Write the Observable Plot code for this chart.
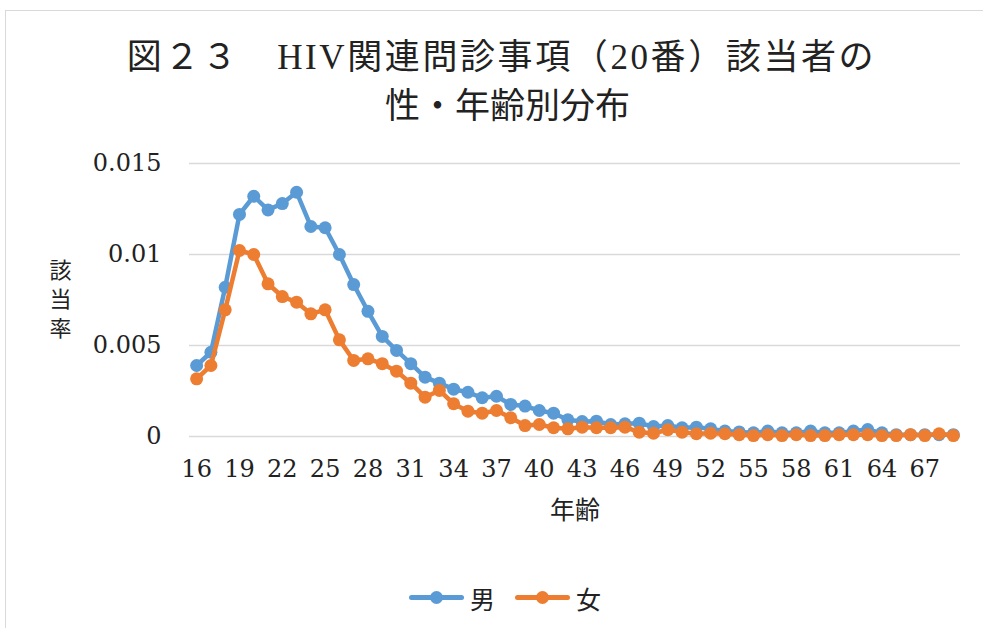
<!DOCTYPE html>
<html>
<head>
<meta charset="utf-8">
<script src="https://cdn.jsdelivr.net/npm/d3@7"></script>
<script src="https://cdn.jsdelivr.net/npm/@observablehq/plot@0.6"></script>
<style>
  html, body { margin: 0; padding: 0; background: #fff; }
  #wrap { position: relative; width: 983px; height: 628px; overflow: hidden; background: #fff; }
  #border { position: absolute; left: 5px; top: 10px; width: 1200px; height: 900px; border: 1.5px solid #D9D9D9; box-sizing: border-box; }
  .title { position: absolute; left: 0; width: 983px; text-align: center; color: #222;
           font-family: "Liberation Serif", "Noto Sans CJK JP", serif; font-size: 35px; line-height: 40px; white-space: nowrap; }
  #t1 { top: 38px; letter-spacing: 2.6px; left: 10px; }
  #t2 { top: 87px; left: 16px; }
  #chart { position: absolute; left: 0; top: 130px; }
  #legend { position: absolute; top: 580px; left: 0; width: 983px; height: 36px; }
  .leg { position: absolute; top: 0; height: 36px; display: flex; align-items: center;
         font-family: "Noto Sans CJK JP", sans-serif; font-size: 25px; color: #222; }
  .sym { position: relative; width: 55px; height: 36px; margin-right: 6px; }
  .sym .ln { position: absolute; left: 0; right: 0; top: 15px; height: 5px; border-radius: 3px; }
  .sym .dt { position: absolute; left: 21px; top: 11px; width: 13px; height: 13px; border-radius: 50%; }
</style>
</head>
<body>
<div id="wrap">
  <div id="border"></div>
  <div class="title" id="t1">図２３　HIV関連問診事項（20番）該当者の</div>
  <div class="title" id="t2">性・年齢別分布</div>
  <div id="chart"></div>
  <div id="legend"></div>
</div>
<script>
const ages = [16,17,18,19,20,21,22,23,24,25,26,27,28,29,30,31,32,33,34,35,36,37,38,39,40,41,42,43,44,45,46,47,48,49,50,51,52,53,54,55,56,57,58,59,60,61,62,63,64,65,66,67,68,69];
const tickAges = [16,19,22,25,28,31,34,37,40,43,46,49,52,55,58,61,64,67];
const male = [0.0039,0.00463,0.0082,0.0122,0.0132,0.01245,0.0128,0.01342,0.01154,0.01147,
              0.0100,0.00835,0.00688,0.0055,0.00473,0.0040,0.00326,0.00293,0.0026,0.00243,
              0.00213,0.00221,0.00176,0.00167,0.00143,0.00128,0.00092,0.00082,0.00084,0.00066,
              0.0007,0.00073,0.00055,0.0006,0.00048,0.00051,0.00042,0.0003,0.00025,0.0002,
              0.0003,0.0002,0.0002,0.0003,0.0002,0.0002,0.0003,0.00038,0.0002,0.0001,
              0.0001,0.0001,0.0001,0.0001];
const female = [0.00317,0.0039,0.00696,0.01022,0.0100,0.00839,0.00769,0.00738,0.00674,0.00696,
                0.00531,0.00418,0.00427,0.0040,0.00359,0.00293,0.00216,0.00253,0.0018,0.00139,
                0.00128,0.00143,0.00103,0.0006,0.00066,0.00048,0.00042,0.00051,0.00048,0.00048,
                0.00051,0.00024,0.00018,0.00037,0.00024,0.00015,0.00018,0.00015,0.0001,0.00005,
                0.0001,0.00005,0.0001,0.00005,0.00005,0.0001,0.0001,0.0001,0.00005,0.00005,
                0.0001,0.00005,0.00015,0.00005];
const seriesNames = ["男", "女"];
const seriesColors = ["#5B9BD5", "#ED7D31"];
const yTicks = [0, 0.005, 0.01, 0.015];
const xLabel = "年齢";
const yLabelChars = ["該", "当", "率"];

const maleData = ages.map((a, i) => ({age: a, v: male[i]}));
const femaleData = ages.map((a, i) => ({age: a, v: female[i]}));

const chart = Plot.plot({
  width: 983,
  height: 410,
  marginLeft: 189,
  marginRight: 23,
  marginTop: 33,
  marginBottom: 104,
  style: {background: "transparent", overflow: "visible"},
  x: {type: "point", domain: ages, padding: 0.5, round: false},
  y: {domain: [0, 0.015]},
  marks: [
    Plot.gridY(yTicks, {stroke: "#D9D9D9", strokeOpacity: 1, strokeWidth: 1.5}),
    Plot.axisY(yTicks, {tickSize: 0, tickPadding: 28, fontSize: 24, fontFamily: "DejaVu Serif", fill: "#222",
      tickFormat: d => d === 0 ? "0" : String(d), label: null}),
    Plot.axisX(tickAges, {tickSize: 0, tickPadding: 23, fontSize: 24, fontFamily: "DejaVu Serif", fill: "#222", label: null}),
    Plot.text([xLabel], {frameAnchor: "bottom", dy: 82, fontSize: 25, fontFamily: "Noto Sans CJK JP", fill: "#222"}),
    ...yLabelChars.map((c, i) => Plot.text([c], {frameAnchor: "left", textAnchor: "middle", dx: -129, dy: (i - 1) * 29,
      fontSize: 22, fontFamily: "Noto Sans CJK JP", fill: "#222"})),
    Plot.line(maleData, {x: "age", y: "v", stroke: seriesColors[0], strokeWidth: 4.5}),
    Plot.dot(maleData, {x: "age", y: "v", r: 6.5, fill: seriesColors[0]}),
    Plot.line(femaleData, {x: "age", y: "v", stroke: seriesColors[1], strokeWidth: 4.5}),
    Plot.dot(femaleData, {x: "age", y: "v", r: 6.5, fill: seriesColors[1]})
  ]
});
document.getElementById("chart").appendChild(chart);

const legend = document.getElementById("legend");
const legendLefts = [409, 515];
seriesNames.forEach((name, i) => {
  const item = document.createElement("div");
  item.className = "leg";
  item.style.left = legendLefts[i] + "px";
  item.innerHTML = `<div class="sym"><div class="ln" style="background:${seriesColors[i]}"></div><div class="dt" style="background:${seriesColors[i]}"></div></div><span>${name}</span>`;
  legend.appendChild(item);
});
</script>
</body>
</html>
